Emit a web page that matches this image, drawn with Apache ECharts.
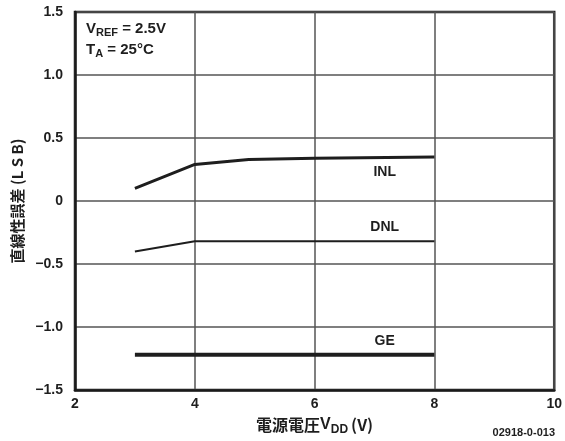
<!DOCTYPE html>
<html>
<head>
<meta charset="utf-8">
<script src="https://cdn.jsdelivr.net/npm/echarts@6/dist/echarts.min.js"></script>
<style>html,body{margin:0;padding:0;background:#fff}#c{width:565px;height:441px}</style>
</head>
<body>
<div id="c"></div>
<script>
var inlData = [[3, 0.10], [4, 0.29], [4.9, 0.33], [6, 0.34], [8, 0.35]];
var dnlData = [[3, -0.40], [4, -0.32], [6, -0.32], [8, -0.32]];
var geData = [[3, -1.22], [8, -1.22]];
var yTickLabels = {'-1.5': '\u22121.5', '-1': '\u22121.0', '-0.5': '\u22120.5', '0': '0', '0.5': '0.5', '1': '1.0', '1.5': '1.5'};
var seriesLabels = [
  {name: 'INL', coord: [7.17, 0.23]},
  {name: 'DNL', coord: [7.17, -0.21]},
  {name: 'GE', coord: [7.17, -1.11]}
];

var FONT = '"Liberation Sans", Arial, "Noto Sans CJK JP", sans-serif';
var CJK = '"Noto Sans CJK JP", "Liberation Sans", sans-serif';
var INK = '#1e1e1e';
var chart = echarts.init(document.getElementById('c'));

function lineSeries(data, width, lbl) {
  return {
    type: 'line', data: data, symbol: 'none', animation: false,
    lineStyle: {color: INK, width: width},
    markPoint: {
      symbol: 'circle', symbolSize: 0,
      label: {show: true, formatter: lbl.name, color: INK, fontFamily: FONT, fontWeight: 'bold', fontSize: 14, position: 'inside'},
      data: [{coord: lbl.coord}]
    }
  };
}

chart.setOption({
  animation: false,
  grid: {left: 75, right: 10, top: 12, bottom: 45, show: true, borderColor: '#1a1a1a', borderWidth: 2.5, containLabel: false},
  xAxis: {
    type: 'value', min: 2, max: 10, interval: 2,
    name: '{a|電源電圧}{v|V}{s|DD}{a|(V)}', nameLocation: 'middle', nameGap: 24,
    nameTextStyle: {rich: {
      a: {fontFamily: CJK, fontWeight: 'bold', fontSize: 16, color: INK},
      v: {fontFamily: FONT, fontWeight: 'bold', fontSize: 16, color: INK},
      s: {fontFamily: FONT, fontWeight: 'bold', fontSize: 12, color: INK, padding: [10, 3, 0, 0]}
    }},
    axisLine: {show: true, onZero: false, lineStyle: {color: '#1a1a1a', width: 2.5}},
    axisTick: {show: false},
    axisLabel: {color: INK, fontFamily: FONT, fontWeight: 'bold', fontSize: 14, margin: 7},
    splitLine: {show: true, lineStyle: {color: '#555', width: 1.5}}
  },
  yAxis: {
    type: 'value', min: -1.5, max: 1.5, interval: 0.5,
    name: '直線性誤差 (L S B)', nameLocation: 'middle', nameGap: 42, nameRotate: 90,
    nameTextStyle: {fontFamily: CJK, fontWeight: 'bold', fontSize: 15, color: INK},
    axisLine: {show: true, onZero: false, lineStyle: {color: '#1a1a1a', width: 2.5}},
    axisTick: {show: false},
    axisLabel: {color: INK, fontFamily: FONT, fontWeight: 'bold', fontSize: 14, margin: 12,
      formatter: function (v) { var k = String(Math.round(v * 10) / 10); return yTickLabels[k] !== undefined ? yTickLabels[k] : k; }},
    splitLine: {show: true, lineStyle: {color: '#555', width: 1.5}}
  },
  graphic: [
    {type: 'text', left: 86, top: 21, style: {
      text: '{a|V}{s|REF}{a| = 2.5V}\n{a|T}{s|A}{a| = 25°C}',
      rich: {
        a: {fontFamily: FONT, fontWeight: 'bold', fontSize: 15, fill: INK, lineHeight: 21},
        s: {fontFamily: FONT, fontWeight: 'bold', fontSize: 11, fill: INK, padding: [9, 0, 0, 0]}
      }
    }},
    {type: 'text', right: 10, top: 427, style: {text: '02918-0-013', fontFamily: FONT, fontWeight: 'bold', fontSize: 11, fill: INK}}
  ],
  series: [
    lineSeries(inlData, 3, seriesLabels[0]),
    lineSeries(dnlData, 2, seriesLabels[1]),
    lineSeries(geData, 4, seriesLabels[2])
  ]
});
</script>
</body>
</html>
